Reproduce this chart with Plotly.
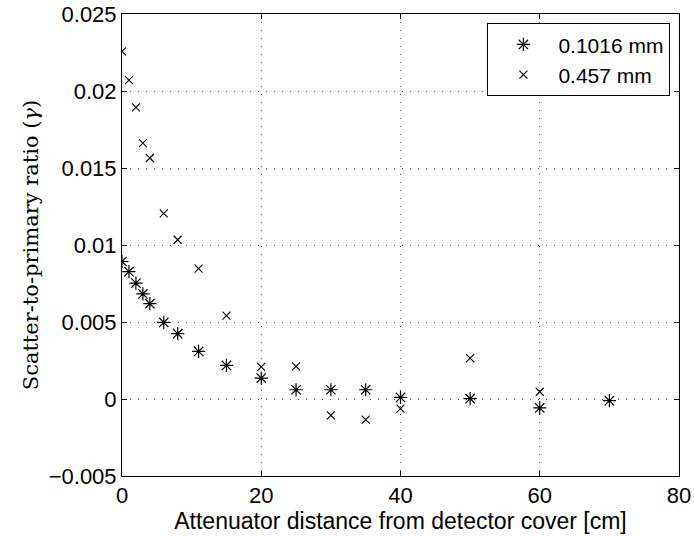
import plotly.graph_objects as go

# Series: 0.1016 mm (asterisk markers)
x_thin = [0, 1, 2, 3, 4, 6, 8, 11, 15, 20, 25, 30, 35, 40, 50, 60, 70]
y_thin = [0.00893, 0.00827, 0.00753, 0.00682, 0.00619, 0.00497, 0.00424, 0.00309,
          0.00218, 0.00136, 0.00060, 0.00060, 0.00060, 0.00010, 0.00002, -0.00058, -0.00011]

# Series: 0.457 mm (x markers)
x_thick = [0, 1, 2, 3, 4, 6, 8, 11, 15, 20, 25, 30, 35, 40, 50, 60]
y_thick = [0.02257, 0.02071, 0.01894, 0.01662, 0.01565, 0.01205, 0.01034, 0.00846,
           0.00541, 0.00208, 0.00212, -0.00106, -0.00134, -0.00063, 0.00266, 0.00047]

x_ticks = [0, 20, 40, 60, 80]
y_ticks = [-0.005, 0, 0.005, 0.01, 0.015, 0.02, 0.025]
y_ticktext = ["\u22120.005", "0", "0.005", "0.01", "0.015", "0.02", "0.025"]

SANS = "Liberation Sans, Arial, Helvetica, sans-serif"

fig = go.Figure()
fig.add_trace(go.Scatter(
    x=x_thin, y=y_thin, mode="markers", name="0.1016 mm",
    marker=dict(symbol="asterisk-open", size=11, color="black",
                line=dict(width=1.2, color="black")),
))
fig.add_trace(go.Scatter(
    x=x_thick, y=y_thick, mode="markers", name="0.457 mm",
    marker=dict(symbol="x-thin-open", size=8, color="black",
                line=dict(width=1.1, color="black")),
))

axis_common = dict(
    showline=True, linecolor="black", linewidth=1, mirror="ticks",
    ticks="inside", ticklen=5, tickcolor="black", tickwidth=1,
    showgrid=True, gridcolor="#555555", gridwidth=1, griddash="1px,7px",
    zeroline=False, automargin=False,
    tickfont=dict(family=SANS, size=22, color="black"),
)

fig.update_layout(
    width=694, height=536,
    margin=dict(l=122, r=15, t=14, b=60),
    paper_bgcolor="white", plot_bgcolor="white",
    showlegend=True,
    legend=dict(
        x=0.9846, y=0.98, xanchor="right", yanchor="top",
        bgcolor="white", bordercolor="black", borderwidth=1,
        font=dict(family=SANS, size=21, color="black"),
        itemwidth=60, tracegroupgap=0,
    ),
    xaxis=dict(
        range=[0, 80], tickvals=x_ticks,
        title=dict(text="Attenuator distance from detector cover [cm]",
                   font=dict(family=SANS, size=23, color="black"),
                   standoff=0),
        **axis_common,
    ),
    yaxis=dict(
        range=[-0.005, 0.025], tickvals=y_ticks, ticktext=y_ticktext,
        title=dict(text="Scatter-to-primary ratio (<i>\u03b3</i>)",
                   font=dict(family="DejaVu Serif, Liberation Serif, serif", size=21, color="black"),
                   standoff=4),
        **axis_common,
    ),
)

fig.write_html("out.html")
